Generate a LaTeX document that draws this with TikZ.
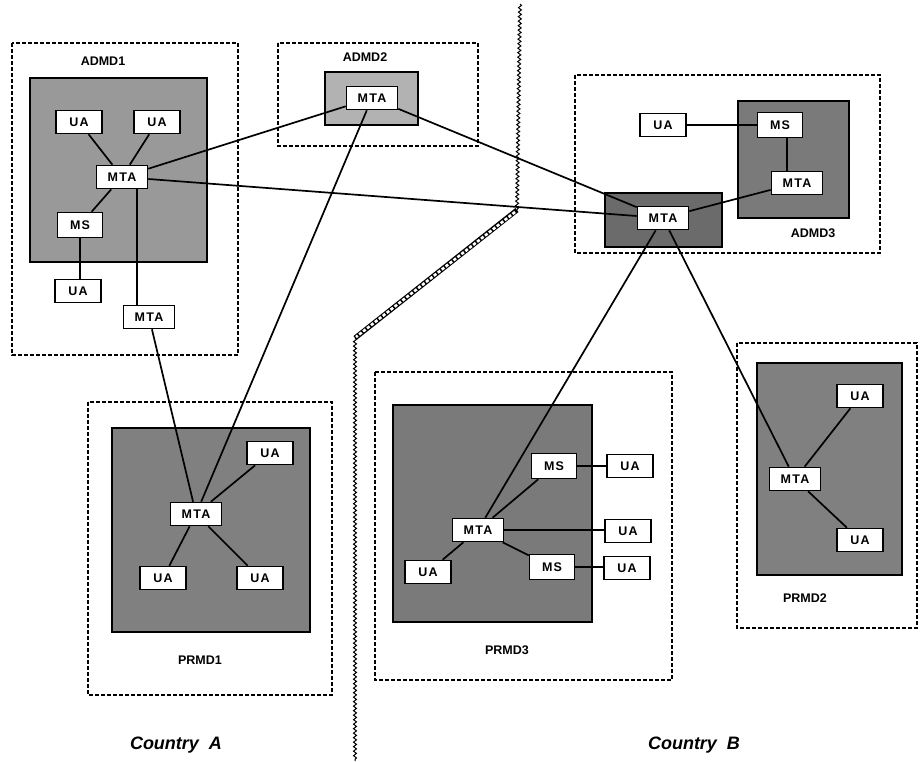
\documentclass[tikz,border=0pt]{standalone}
\usepackage{fontspec}
\setmainfont{Liberation Sans}
\usetikzlibrary{decorations.pathmorphing}
\pgfdeclarelayer{back}
\pgfdeclarelayer{wires}
\pgfsetlayers{back,wires,main}

\tikzset{
  agent/.style={draw, line width=1.6pt, fill=white, inner sep=0pt,
    minimum height=23pt, minimum width=46pt,
    font=\bfseries\addfontfeature{LetterSpace=10}\fontsize{12.5}{13}\selectfont},
  mtabox/.style={agent, minimum width=51pt},
  msbox/.style={agent, minimum width=45pt, minimum height=25pt},
  mdframe/.style={draw, line width=1.1pt, dash pattern=on 4pt off 2pt},
  area/.style={draw, line width=2.2pt},
  link/.style={line width=1.7pt},
  dlabel/.style={font=\bfseries\fontsize{12.5}{13}\selectfont},
  country/.style={font=\bfseries\itshape\fontsize{18}{18}\selectfont},
  frontier/.style={line width=1pt, decorate,
    decoration={snake, amplitude=1.5pt, segment length=4.5pt}},
}

\begin{document}
\begin{tikzpicture}[x=1pt,y=-1pt]
\useasboundingbox (0,0) rectangle (920,761);

% management domains and their shaded areas
\begin{pgfonlayer}{back}
  \draw[mdframe] (12,43) rectangle (238,355);
  \draw[mdframe] (278,43) rectangle (478,146);
  \draw[mdframe] (575,75) rectangle (880,253);
  \draw[mdframe] (88,402) rectangle (332,695);
  \draw[mdframe] (375,372) rectangle (672,680);
  \draw[mdframe] (737,343) rectangle (917,628);

  \draw[area, fill=black!40] (30,78) rectangle (207,262);
  \draw[area, fill=black!30] (325,72) rectangle (418,125);
  \draw[area, fill=black!58] (605,193) rectangle (722,247);
  \draw[area, fill=black!52] (738,101) rectangle (849,218);
  \draw[area, fill=black!50] (112,428) rectangle (310,632);
  \draw[area, fill=black!52] (393,405) rectangle (592,622);
  \draw[area, fill=black!50] (757,363) rectangle (902,575);

  % country frontier
  \coordinate (fTop) at (520,4);
  \coordinate (fJoin) at (517,210);
  \coordinate (fBend) at (355,338);
  \coordinate (fEnd) at (355,761);
  \draw[frontier] (fTop) -- (fJoin);
  \draw[frontier] (fBend) -- (fEnd);
  \draw[line width=5pt] (fJoin) -- (fBend);
  \draw[white, line width=2.6pt, dash pattern=on 3.2pt off 1.8pt]
    ([shift={(-2,2)}]fJoin) -- ([shift={(1,-1)}]fBend);
\end{pgfonlayer}

% domain names
\node[dlabel] (lA1) at (103,61) {ADMD1};
\node[dlabel] (lA2) at (365,57) {ADMD2};
\node[dlabel] (lA3) at (813,233) {ADMD3};
\node[dlabel] (lP1) at (200,660) {PRMD1};
\node[dlabel] (lP3) at (507,650) {PRMD3};
\node[dlabel] (lP2) at (805,598) {PRMD2};
\node[country] (cA) at (176,745) {Country\ \ A};
\node[country] (cB) at (694,745) {Country\ \ B};

% ADMD1
\node[agent] (a1ua1) at (79,122) {UA};
\node[agent] (a1ua2) at (157,122) {UA};
\node[mtabox] (a1mta) at (122,177) {MTA};
\node[msbox] (a1ms) at (80,225) {MS};
\node[agent] (a1ua3) at (78,291) {UA};
\node[mtabox] (a1mtb) at (149,317) {MTA};

% ADMD2
\node[mtabox] (a2mta) at (372,98) {MTA};

% ADMD3
\node[agent] (a3ua) at (663,125) {UA};
\node[msbox] (a3ms) at (780,125) {MS};
\node[mtabox] (a3mtb) at (797,183) {MTA};
\node[mtabox] (a3mta) at (663,218) {MTA};

% PRMD1
\node[mtabox] (p1mta) at (196,514) {MTA};
\node[agent] (p1ua1) at (270,453) {UA};
\node[agent] (p1ua2) at (163,578) {UA};
\node[agent] (p1ua3) at (260,578) {UA};

% PRMD3
\node[mtabox] (p3mta) at (478,530) {MTA};
\node[msbox] (p3ms1) at (554,466) {MS};
\node[msbox] (p3ms2) at (552,567) {MS};
\node[agent] (p3ua1) at (630,466) {UA};
\node[agent] (p3ua2) at (628,531) {UA};
\node[agent] (p3ua3) at (428,572) {UA};
\node[agent] (p3ua4) at (627,568) {UA};

% PRMD2
\node[mtabox] (p2mta) at (795,479) {MTA};
\node[agent] (p2ua1) at (860,396) {UA};
\node[agent] (p2ua2) at (860,540) {UA};

% connections
\begin{pgfonlayer}{wires}
  \draw[link] (a1ua1) -- (a1mta);
  \draw[link] (a1ua2) -- (a1mta);
  \draw[link] (a1mta) -- (a1ms);
  \draw[link] (a1ms.south) -- (a1ms.south |- a1ua3.north);
  \draw[link] ([xshift=15pt]a1mta.south) -- ([xshift=15pt]a1mta.south |- a1mtb.north);
  \draw[link] (a1mtb) -- (p1mta);
  \draw[link] (a1mta) -- (a2mta);
  \draw[link] (a1mta) -- (a3mta);
  \draw[link] (a2mta) -- (a3mta);
  \draw[link] (a2mta) -- (p1mta);

  \draw[link] (a3ua) -- (a3ms);
  \draw[link] ([xshift=7pt]a3ms.south) -- ([xshift=7pt]a3ms.south |- a3mtb.north);
  \draw[link] (a3mta) -- (a3mtb);
  \draw[link] (a3mta) -- (p3mta);
  \draw[link] (a3mta) -- (p2mta);

  \draw[link] (p1mta) -- (p1ua1);
  \draw[link] (p1mta) -- (p1ua2);
  \draw[link] (p1mta) -- (p1ua3);

  \draw[link] (p3mta) -- (p3ms1);
  \draw[link] (p3mta) -- (p3ms2);
  \draw[link] (p3mta) -- (p3ua3);
  \draw[link] (p3mta.east) -- (p3mta.east -| p3ua2.west);
  \draw[link] (p3ms1) -- (p3ua1);
  \draw[link] (p3ms2.east) -- (p3ms2.east -| p3ua4.west);

  \draw[link] (p2mta) -- (p2ua1);
  \draw[link] (p2mta) -- (p2ua2);
\end{pgfonlayer}
\end{tikzpicture}
\end{document}
